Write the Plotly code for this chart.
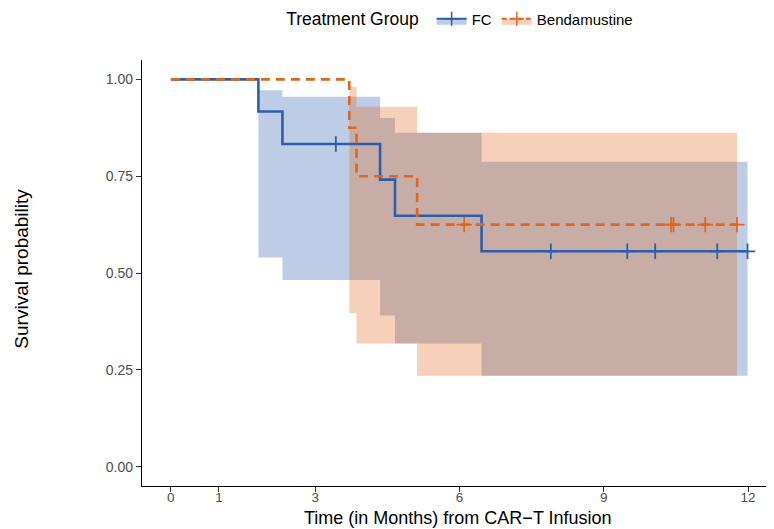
import plotly.graph_objects as go

# ---- data ----
fc_time = [0, 1.82, 2.32, 4.35, 4.66, 6.46, 11.99]
fc_surv = [1.0, 0.917, 0.833, 0.741, 0.648, 0.556, 0.556]
fc_upper = [1.0, 0.972, 0.955, 0.900, 0.862, 0.787, 0.787]
fc_lower = [1.0, 0.540, 0.482, 0.390, 0.318, 0.235, 0.235]
fc_censor = [3.43, 7.90, 9.49, 10.07, 11.36, 11.99]

benda_time = [0, 3.71, 3.86, 5.12, 11.77]
benda_surv = [1.0, 0.875, 0.750, 0.625, 0.625]
benda_upper = [1.0, 0.980, 0.929, 0.862, 0.862]
benda_lower = [1.0, 0.397, 0.318, 0.235, 0.235]
benda_censor = [6.10, 10.40, 10.45, 11.11, 11.77]

x_ticks = [0, 1, 3, 6, 9, 12]
y_ticks = [0.0, 0.25, 0.5, 0.75, 1.0]
y_ticklabels = ["0.00", "0.25", "0.50", "0.75", "1.00"]

BLUE = "#2B5FAD"
ORANGE = "#E0661E"
BLUE_FILL = "rgba(38,88,172,0.30)"
ORANGE_FILL = "rgba(226,100,20,0.30)"
FONT = "Liberation Sans, Arial, sans-serif"


def step_value(times, values, t):
    v = values[0]
    for ti, vi in zip(times, values):
        if ti <= t:
            v = vi
    return v


fig = go.Figure()

# confidence ribbons
for times, lo, up, fillc in [
    (fc_time, fc_lower, fc_upper, BLUE_FILL),
    (benda_time, benda_lower, benda_upper, ORANGE_FILL),
]:
    fig.add_trace(go.Scatter(x=times, y=lo, mode="lines", line=dict(width=0, shape="hv"),
                             showlegend=False, hoverinfo="skip"))
    fig.add_trace(go.Scatter(x=times, y=up, mode="lines", line=dict(width=0, shape="hv"),
                             fill="tonexty", fillcolor=fillc, showlegend=False, hoverinfo="skip"))

# survival curves with censor marks
fig.add_trace(go.Scatter(x=fc_time, y=fc_surv, mode="lines",
                         line=dict(color=BLUE, width=2.6, shape="hv"), showlegend=False))
fig.add_trace(go.Scatter(x=fc_censor, y=[step_value(fc_time, fc_surv, t) for t in fc_censor],
                         mode="markers", marker=dict(symbol="cross-thin-open", size=11, color=BLUE,
                                                     line=dict(color=BLUE, width=1.8)),
                         showlegend=False))
fig.add_trace(go.Scatter(x=benda_time, y=benda_surv, mode="lines",
                         line=dict(color=ORANGE, width=2.6, shape="hv", dash="9px,6px"), showlegend=False))
fig.add_trace(go.Scatter(x=benda_censor, y=[step_value(benda_time, benda_surv, t) for t in benda_censor],
                         mode="markers", marker=dict(symbol="cross-thin-open", size=11, color=ORANGE,
                                                     line=dict(color=ORANGE, width=1.8)),
                         showlegend=False))

# legend entries
fig.add_trace(go.Scatter(x=[None], y=[None], mode="lines+markers", name="FC",
                         fill="toself", fillcolor=BLUE_FILL,
                         line=dict(color=BLUE, width=2),
                         marker=dict(symbol="cross-thin-open", size=10, color=BLUE,
                                     line=dict(color=BLUE, width=1.5))))
fig.add_trace(go.Scatter(x=[None], y=[None], mode="lines+markers", name="Bendamustine",
                         fill="toself", fillcolor=ORANGE_FILL,
                         line=dict(color=ORANGE, width=2, dash="5px,3px"),
                         marker=dict(symbol="cross-thin-open", size=10, color=ORANGE,
                                     line=dict(color=ORANGE, width=1.5))))

# the page body adds an 8px offset, so the figure is 8px smaller than the window
fig.update_layout(
    width=766, height=521,
    margin=dict(l=134, r=0, t=52, b=43),
    paper_bgcolor="white", plot_bgcolor="white",
    font=dict(family=FONT, size=14, color="black"),
    legend=dict(orientation="h", x=0.505, xanchor="center", yref="container", y=0.979, yanchor="middle",
                traceorder="normal",
                title=dict(text="Treatment Group ", font=dict(size=17.5)),
                font=dict(size=15), itemwidth=30),
    xaxis=dict(range=[-0.6, 12.54], tickmode="array", tickvals=x_ticks,
               ticktext=[str(v) for v in x_ticks], automargin=False,
               showgrid=False, zeroline=False, showline=True, linecolor="black", linewidth=1.3,
               ticks="outside", ticklen=5, tickcolor="#333333", tickwidth=1.1,
               ticklabelstandoff=-6,
               tickfont=dict(size=13.5, color="#4D4D4D")),
    yaxis=dict(range=[-0.05, 1.05], tickmode="array", tickvals=y_ticks, ticktext=y_ticklabels,
               automargin=False,
               showgrid=False, zeroline=False, showline=True, linecolor="black", linewidth=1.3,
               ticks="outside", ticklen=5, tickcolor="#333333", tickwidth=1.1,
               tickfont=dict(size=14, color="#4D4D4D")),
    annotations=[
        dict(text="Time (in Months) from CAR\u2212T Infusion", xref="paper", yref="paper",
             x=0.5, y=-0.074, xanchor="center", yanchor="middle", showarrow=False,
             font=dict(size=18, color="black")),
        dict(text="Survival probability", xref="paper", yref="paper", textangle=-90,
             x=-0.19, y=0.51, xanchor="center", yanchor="middle", showarrow=False,
             font=dict(size=19, color="black")),
    ],
)

fig.write_html("out.html")
